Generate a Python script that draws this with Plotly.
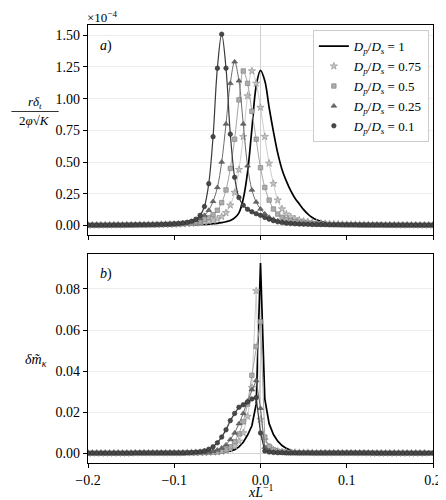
import numpy as np
import plotly.graph_objects as go
from plotly.subplots import make_subplots

# sample positions x*L^-1 (step 0.005 from -0.2 to 0.2)
x = np.round(np.linspace(-0.2, 0.2, 81), 3)

# panel a) r*delta_t / (2 phi sqrt K), in units of 1e-4
a_d100 = ([0.002] * 10 + [0.003] * 7 + [0.004] * 4 +
          [0.005, 0.005, 0.006, 0.006, 0.007, 0.008, 0.009, 0.011, 0.014, 0.017,
           0.022, 0.030, 0.040, 0.060, 0.100, 0.210, 0.420, 0.760, 1.100, 1.223,
           1.140, 0.930, 0.740, 0.570, 0.440, 0.350, 0.275, 0.215, 0.170, 0.125,
           0.090, 0.063, 0.045, 0.033, 0.025, 0.019, 0.015, 0.012, 0.010, 0.009] +
          [0.008, 0.007, 0.006, 0.006, 0.005, 0.005, 0.004, 0.004, 0.004, 0.003,
           0.003, 0.003, 0.003, 0.003, 0.002, 0.002, 0.002, 0.002, 0.002, 0.002])
a_d075 = ([0.003] * 4 + [0.004] * 5 + [0.005] * 3 + [0.006] * 3 +
          [0.007, 0.007, 0.008, 0.008, 0.009, 0.010,
           0.011, 0.012, 0.014, 0.016, 0.019, 0.022, 0.027, 0.032, 0.040, 0.052,
           0.070, 0.100, 0.160, 0.260, 0.440, 0.700, 1.020, 1.218, 1.120, 0.930,
           0.700, 0.490, 0.330, 0.200, 0.130, 0.090, 0.068, 0.052, 0.042, 0.034,
           0.029, 0.024, 0.020, 0.017, 0.015, 0.013, 0.012, 0.010, 0.009, 0.008] +
          [0.008, 0.007, 0.007, 0.006, 0.006, 0.006, 0.005, 0.005, 0.005, 0.005,
           0.004, 0.004, 0.004, 0.004, 0.004, 0.004, 0.003, 0.003, 0.003, 0.003])
a_d050 = ([0.003] * 5 + [0.004] * 4 + [0.005] * 3 +
          [0.006, 0.006, 0.007, 0.007, 0.008, 0.009, 0.010, 0.011, 0.013,
           0.015, 0.017, 0.020, 0.024, 0.030, 0.037, 0.047, 0.062, 0.085, 0.120,
           0.180, 0.280, 0.450, 0.680, 0.990, 1.218, 1.120, 0.900, 0.680, 0.455,
           0.300, 0.200, 0.130, 0.090, 0.065, 0.048, 0.037, 0.029, 0.023, 0.019,
           0.016, 0.014, 0.012, 0.011, 0.010, 0.009, 0.008, 0.008, 0.007, 0.007] +
          [0.006, 0.006, 0.006, 0.005, 0.005, 0.005, 0.005, 0.005, 0.004, 0.004,
           0.004, 0.004, 0.004, 0.004, 0.003, 0.003, 0.003, 0.003, 0.003, 0.003])
a_d025 = ([0.003] * 6 + [0.004] * 4 + [0.005] * 3 +
          [0.006, 0.006, 0.007, 0.008, 0.009, 0.010, 0.012, 0.014,
           0.016, 0.020, 0.025, 0.032, 0.040, 0.055, 0.080, 0.120, 0.190, 0.300,
           0.500, 0.800, 1.120, 1.290, 1.140, 0.800, 0.470, 0.280, 0.185, 0.130,
           0.092, 0.066, 0.049, 0.037, 0.029, 0.023, 0.019, 0.016, 0.013, 0.011,
           0.010, 0.009, 0.008, 0.008, 0.007, 0.007, 0.006, 0.006, 0.006, 0.005] +
          [0.005, 0.005, 0.005, 0.004, 0.004, 0.004, 0.004, 0.004, 0.004, 0.003,
           0.003, 0.003, 0.003, 0.003, 0.003, 0.003, 0.003, 0.003, 0.003, 0.003])
a_d010 = ([0.003] * 7 + [0.004] * 4 +
          [0.005, 0.005, 0.005, 0.006, 0.006, 0.007, 0.008, 0.009, 0.010, 0.012,
           0.014, 0.018, 0.024, 0.033, 0.050, 0.080, 0.150, 0.330, 0.700, 1.240,
           1.508, 1.240, 0.720, 0.380, 0.220, 0.160, 0.128, 0.108, 0.093, 0.080,
           0.064, 0.050, 0.038, 0.029, 0.023, 0.018, 0.015, 0.013, 0.011, 0.010,
           0.009, 0.008, 0.008, 0.007, 0.007, 0.006, 0.006, 0.006, 0.005, 0.005] +
          [0.005, 0.005, 0.004, 0.004, 0.004, 0.004, 0.004, 0.004] + [0.003] * 12)

# panel b) delta m_kappa
b_d100 = ([0.0002] * 11 + [0.0003] * 14 +
          [0.0004, 0.0004, 0.0004, 0.0005, 0.0005, 0.0006,
           0.0007, 0.0009, 0.0012, 0.0019, 0.0032, 0.0055, 0.0090, 0.0135, 0.0240,
           0.0925, 0.0265, 0.0145, 0.0092, 0.0060, 0.0039, 0.0025, 0.0016, 0.0011,
           0.0008, 0.0006, 0.0005, 0.0005, 0.0004, 0.0004, 0.0004] +
          [0.0003] * 11 + [0.0002] * 14)
b_d075 = ([0.0002] * 11 + [0.0003] * 12 +
          [0.0004, 0.0004, 0.0004, 0.0005, 0.0005, 0.0006, 0.0007,
           0.0008, 0.0010, 0.0014, 0.0022, 0.0036, 0.0060, 0.0100, 0.0180, 0.0320,
           0.0790, 0.0165, 0.0065, 0.0032, 0.0018, 0.0011, 0.0008, 0.0006, 0.0005,
           0.0005, 0.0004, 0.0004, 0.0004, 0.0004] +
          [0.0003] * 12 + [0.0002] * 14)
b_d050 = ([0.0002] * 11 + [0.0003] * 12 +
          [0.0004, 0.0004, 0.0004, 0.0005, 0.0005, 0.0006, 0.0007,
           0.0008, 0.0011, 0.0018, 0.0033, 0.0058, 0.0095, 0.0154, 0.0240, 0.0380,
           0.0520, 0.0640, 0.0080, 0.0035, 0.0018, 0.0011, 0.0008, 0.0006, 0.0005,
           0.0005, 0.0004, 0.0004, 0.0004] +
          [0.0003] * 15 + [0.0002] * 14)
b_d025 = ([0.0002] * 11 + [0.0003] * 13 +
          [0.0004, 0.0004, 0.0005, 0.0005, 0.0007, 0.0011, 0.0017,
           0.0027, 0.0042, 0.0068, 0.0100, 0.0145, 0.0195, 0.0255, 0.0310, 0.0355,
           0.0220, 0.0030, 0.0013, 0.0008, 0.0006, 0.0005, 0.0004, 0.0004, 0.0004] +
          [0.0003] * 16 + [0.0002] * 16)
b_d010 = ([0.0002] * 11 + [0.0003] * 12 +
          [0.0004, 0.0005, 0.0007, 0.0009, 0.0013, 0.0021, 0.0033,
           0.0052, 0.0080, 0.0115, 0.0160, 0.0195, 0.0225, 0.0237, 0.0250, 0.0265,
           0.0272, 0.0100, 0.0012, 0.0007, 0.0005, 0.0004, 0.0004] +
          [0.0003] * 20 + [0.0002] * 18)

names = ["1", "0.75", "0.5", "0.25", "0.1"]
top_series = [a_d100, a_d075, a_d050, a_d025, a_d010]
bot_series = [b_d100, b_d075, b_d050, b_d025, b_d010]

styles = [
    dict(line="#000000", width=1.7, symbol=None),
    dict(line="#cdcdcd", width=1.0, symbol="star", fill="#c4c4c4", edge="#8c8c8c", size=5.5),
    dict(line="#a4a4a4", width=1.0, symbol="square", fill="#acacac", edge="#7c7c7c", size=4.5),
    dict(line="#6c6c6c", width=1.0, symbol="triangle-up", fill="#686868", edge="#4c4c4c", size=5),
    dict(line="#3a3a3a", width=1.2, symbol="circle", fill="#484848", edge="#2e2e2e", size=4.5),
]

fig = make_subplots(rows=2, cols=1)

for row, series_list, shape in [(1, top_series, "spline"), (2, bot_series, "linear")]:
    for name, y, st in zip(names, series_list, styles):
        label = "<i>D<sub>p</sub></i>/<i>D<sub>s</sub></i> = " + name
        if st["symbol"] is None:
            fig.add_trace(go.Scatter(x=x, y=y, mode="lines", name=label,
                                     line=dict(color=st["line"], width=st["width"], shape=shape),
                                     showlegend=(row == 1)),
                          row=row, col=1)
            continue
        fig.add_trace(go.Scatter(x=x, y=y, mode="lines", showlegend=False, hoverinfo="skip",
                                 line=dict(color=st["line"], width=st["width"], shape=shape)),
                      row=row, col=1)
        fig.add_trace(go.Scatter(x=x, y=y, mode="markers", name=label, showlegend=(row == 1),
                                 marker=dict(symbol=st["symbol"], size=st["size"], color=st["fill"],
                                             line=dict(color=st["edge"], width=0.6))),
                      row=row, col=1)

axis_common = dict(showline=True, mirror=True, linecolor="black", linewidth=1.4,
                   ticks="outside", ticklen=4, tickwidth=1.2, tickcolor="black")

fig.update_xaxes(range=[-0.2, 0.2], tickvals=[-0.2, -0.1, 0, 0.1, 0.2], tickformat=".1f",
                 showgrid=False, zeroline=True, zerolinecolor="#cfcfcf", zerolinewidth=1,
                 **axis_common)
fig.update_xaxes(showticklabels=False, row=1, col=1)
fig.update_yaxes(showgrid=True, gridcolor="#ededed", gridwidth=1,
                 zeroline=True, zerolinecolor="#d4d4d4", zerolinewidth=1, **axis_common)
fig.update_yaxes(range=[-0.075, 1.58], tickvals=[0, 0.25, 0.5, 0.75, 1.0, 1.25, 1.5],
                 tickformat=".2f", row=1, col=1)
fig.update_yaxes(range=[-0.0046, 0.0971], tickvals=[0, 0.02, 0.04, 0.06, 0.08],
                 tickformat=".2f", row=2, col=1)

fig.update_layout(
    width=446, height=500,
    margin=dict(l=80, r=12, t=17, b=45),
    plot_bgcolor="white", paper_bgcolor="white",
    font=dict(family="Liberation Serif", size=14, color="black"),
    yaxis=dict(domain=[0.5205, 1.0]),
    yaxis2=dict(domain=[0.0, 0.478]),
    legend=dict(x=0.988, y=0.988, xanchor="right", yanchor="top",
                bgcolor="white", bordercolor="#cccccc", borderwidth=1,
                font=dict(size=13), tracegroupgap=0, itemwidth=30),
)

fig.add_annotation(text="×10<sup>−4</sup>", xref="paper", yref="paper", x=-0.005, y=1.018,
                   xanchor="left", yanchor="middle", showarrow=False, font=dict(size=13),
                   borderpad=0)
fig.add_annotation(text="<i>a</i>)", xref="x domain", yref="y domain", x=0.03, y=0.95,
                   xanchor="left", yanchor="top", showarrow=False, font=dict(size=14))
fig.add_annotation(text="<i>b</i>)", xref="x2 domain", yref="y2 domain", x=0.03, y=0.95,
                   xanchor="left", yanchor="top", showarrow=False, font=dict(size=14))
# fraction label of panel a)
fig.add_annotation(text="<i>rδ<sub>t</sub></i>", xref="paper", yref="paper", x=-0.155, y=0.823,
                   xanchor="center", yanchor="middle", showarrow=False, font=dict(size=13),
                   borderpad=0)
fig.add_shape(type="line", xref="paper", yref="paper", x0=-0.222, x1=-0.085, y0=0.8025, y1=0.8025,
              line=dict(color="black", width=0.8))
fig.add_annotation(text="2<i>φ</i>√<i>K</i>", xref="paper", yref="paper", x=-0.155, y=0.781,
                   xanchor="center", yanchor="middle", showarrow=False, font=dict(size=13),
                   borderpad=0)
fig.add_annotation(text="<i>δm̃<sub>κ</sub></i>", xref="paper", yref="paper", x=-0.15, y=0.235,
                   xanchor="center", yanchor="middle", showarrow=False, font=dict(size=14))
fig.add_annotation(text="<i>xL</i><sup>−1</sup>", xref="paper", yref="paper", x=0.5, y=-0.064,
                   xanchor="center", yanchor="middle", showarrow=False, font=dict(size=14),
                   borderpad=0)

fig.write_html("out.html")
